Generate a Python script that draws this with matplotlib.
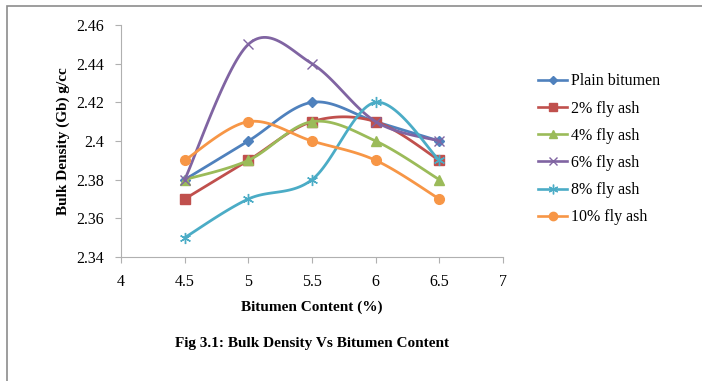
import matplotlib
matplotlib.use("Agg")
import matplotlib.pyplot as plt
import numpy as np
from matplotlib.patches import Rectangle

bitumen = [4.5, 5, 5.5, 6, 6.5]
plain = [2.38, 2.40, 2.42, 2.41, 2.40]
fly2 = [2.37, 2.39, 2.41, 2.41, 2.39]
fly4 = [2.38, 2.39, 2.41, 2.40, 2.38]
fly6 = [2.38, 2.45, 2.44, 2.41, 2.40]
fly8 = [2.35, 2.37, 2.38, 2.42, 2.39]
fly10 = [2.39, 2.41, 2.40, 2.39, 2.37]

names = ['Plain bitumen', '2% fly ash', '4% fly ash', '6% fly ash', '8% fly ash', '10% fly ash']
colors = ['#4F81BD', '#C0504D', '#9BBB59', '#8064A2', '#4BACC6', '#F79646']
markers = ['D', 's', '^', 'x', (6, 2, 0), 'o']
msizes = [5, 7, 7, 7, 8, 7]
series = [plain, fly2, fly4, fly6, fly8, fly10]

plt.rcParams['font.family'] = ['Liberation Serif', 'DejaVu Serif']


def smooth(x, y, n=30):
    # Catmull-Rom style bezier, like excel's smoothed lines
    x = np.asarray(x, float)
    y = np.asarray(y, float)
    px = np.concatenate([[x[0]], x, [x[-1]]])
    py = np.concatenate([[y[0]], y, [y[-1]]])
    xs, ys = [], []
    t = np.linspace(0, 1, n)
    for i in range(1, len(px) - 2):
        p0 = np.array([px[i], py[i]])
        p3 = np.array([px[i + 1], py[i + 1]])
        p1 = p0 + (np.array([px[i + 1], py[i + 1]]) - np.array([px[i - 1], py[i - 1]])) / 6
        p2 = p3 - (np.array([px[i + 2], py[i + 2]]) - np.array([px[i], py[i]])) / 6
        b = ((1 - t) ** 3)[:, None] * p0 + (3 * (1 - t) ** 2 * t)[:, None] * p1 \
            + (3 * (1 - t) * t ** 2)[:, None] * p2 + (t ** 3)[:, None] * p3
        xs.extend(b[:, 0])
        ys.extend(b[:, 1])
    return xs, ys


fig = plt.figure(figsize=(7.02, 3.81), dpi=100)
fig.patches.append(Rectangle((7 / 702, -0.1), 1.2, 1.1 - 6 / 381 + 0.001, transform=fig.transFigure,
                             fill=False, edgecolor='#8c8c8c', linewidth=1.2))
ax = fig.add_axes([121 / 702, 1 - 257 / 381, 382 / 702, 232 / 381])

handles = []
for y, c, m, ms, nm in zip(series, colors, markers, msizes, names):
    sx, sy = smooth(bitumen, y)
    ax.plot(sx, sy, color=c, linewidth=2.0)
    ax.plot(bitumen, y, linestyle='none', marker=m, color=c, markersize=ms,
            markeredgecolor=c, markeredgewidth=1.0)
    h, = ax.plot([], [], color=c, marker=m, markersize=ms - 1, linewidth=1.9, label=nm)
    handles.append(h)

ax.set_xlim(4, 7)
ax.set_ylim(2.34, 2.46)
ax.set_xticks([4, 4.5, 5, 5.5, 6, 6.5, 7])
ax.set_xticklabels(['4', '4.5', '5', '5.5', '6', '6.5', '7'])
ax.set_yticks([2.34, 2.36, 2.38, 2.40, 2.42, 2.44, 2.46])
ax.set_yticklabels(['2.34', '2.36', '2.38', '2.4', '2.42', '2.44', '2.46'])
for s in ['top', 'right']:
    ax.spines[s].set_visible(False)
for s in ['left', 'bottom']:
    ax.spines[s].set_color('#b0b0b0')
ax.tick_params(direction='out', length=4, color='#b0b0b0', labelsize=11.5, pad=8)
ax.set_xlabel('Bitumen Content (%)', fontsize=11, fontweight='bold', labelpad=8)
ax.set_ylabel('Bulk Density (Gb) g/cc', fontsize=11, fontweight='bold', labelpad=5)

fig.legend(handles=handles, loc='upper left', bbox_to_anchor=(532 / 702, 1 - 67 / 381),
           frameon=False, fontsize=11.5, handlelength=1.8, handletextpad=0.25,
           labelspacing=0.7, borderaxespad=0)

fig.text(312 / 702, 1 - 343 / 381, 'Fig 3.1: Bulk Density Vs Bitumen Content',
         fontsize=11, fontweight='bold', ha='center', va='center')

fig.savefig('out.png', dpi=100)
